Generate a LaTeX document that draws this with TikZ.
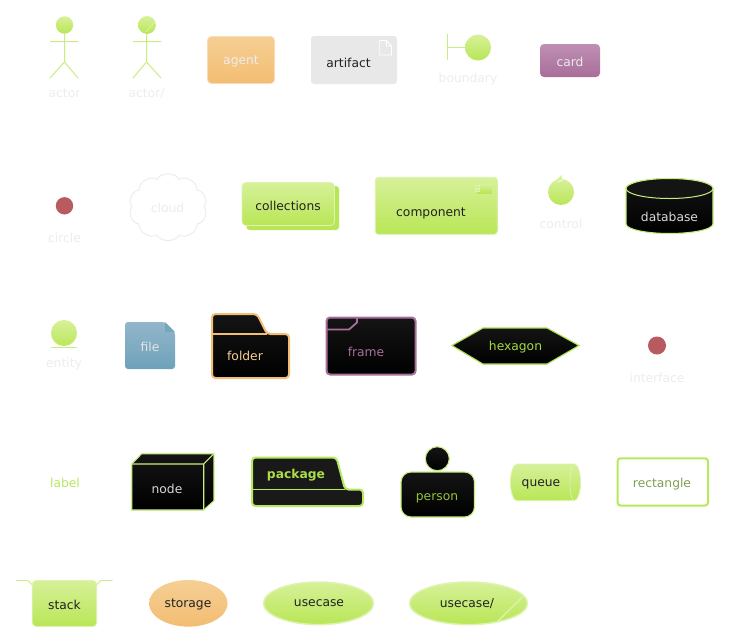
\documentclass[tikz,border=0pt]{standalone}
\usepackage{fontspec}
\setmainfont{DejaVu Sans}
\definecolor{gtop}{HTML}{D6F199}
\definecolor{gbot}{HTML}{B9E656}
\definecolor{gline}{HTML}{DDF3AE}
\definecolor{gstroke}{HTML}{C9EE80}
\definecolor{gdeep}{HTML}{B8E860}
\definecolor{gtext}{HTML}{A5DA3E}
\definecolor{faint}{HTML}{EDEDED}
\definecolor{otop}{HTML}{F5CF94}
\definecolor{obot}{HTML}{F3BD72}
\definecolor{ptop}{HTML}{BE8FB3}
\definecolor{pbot}{HTML}{A96E9A}
\definecolor{btop}{HTML}{92B6CA}
\definecolor{bbot}{HTML}{6EA2BA}
\definecolor{redc}{HTML}{B85B60}
\definecolor{darktext}{HTML}{222222}
\definecolor{rectext}{HTML}{7F9F55}
\definecolor{artgray}{HTML}{E8E8E8}
\tikzset{
  x=1pt,y=-1pt,
  txt/.style={inner sep=0pt,yshift=-0.9pt,font=\fontsize{12.3}{14}\selectfont},
  lbl/.style={txt,text=faint},
  dark/.style={txt,text=darktext},
  greenbox/.style={top color=gtop,bottom color=gbot,draw=gline,line width=0.8pt},
  orangebox/.style={top color=otop,bottom color=obot,draw=otop!70!white,line width=0.8pt},
  blackbox/.style={top color=black!92,bottom color=black,draw=gstroke,line width=1.1pt},
  stick/.style={draw=gstroke,line width=1pt},
}
\begin{document}
\begin{tikzpicture}
\useasboundingbox (0,0) rectangle (735,638);
\fill[white] (0,0) rectangle (735,638);

% row 1
\path[greenbox,draw=none] (64.5,25) circle (8.7);
\draw[stick] (64.5,33.5) -- (64.5,62) -- (50,78) (64.5,62) -- (78,78) (50,41.5) -- (78,41.5);
\node[lbl] (actorL) at (64.5,92.5) {actor};
\path[greenbox,draw=none] (147,25) circle (8.9);
\draw[gline,line width=0.7pt] (155,21.5) -- (146,32);
\draw[stick] (146.5,33.5) -- (146.5,62) -- (133,78) (146.5,62) -- (161,78) (133,41.5) -- (161,41.5);
\node[lbl] (actorsL) at (146.5,92.5) {actor/};
\path[orangebox,rounded corners=4] (207.5,36.5) rectangle (274.5,83.5);
\node[txt,text=faint] (agent) at (241,61) {agent};
\fill[artgray,rounded corners=3] (311,36) rectangle (397,84);
\node[dark] (artifact) at (348.5,62) {artifact};
\draw[white,line width=0.9pt] (379.7,40.5) -- (386.5,40.5) -- (391.5,46) -- (391.5,55) -- (379.7,55) -- cycle (386.5,40.5) -- (386.5,46) -- (391.5,46);
\draw[stick] (447.5,34) -- (447.5,60) (447.5,47.5) -- (465,47.5);
\path[greenbox,draw=none] (478,47.5) circle (13);
\node[lbl] (boundaryL) at (468,78) {boundary};
\path[top color=ptop,bottom color=pbot,rounded corners=4] (540,44) rectangle (600,77);
\node[txt,text=white!92!black] (card) at (570,61) {card};

% row 2
\fill[redc] (64.5,205.8) circle (8.7);
\node[lbl] (circleL) at (64.5,237.5) {circle};
\draw[faint,line width=1pt]
  (204,207) to[bend right=62] (197,190) to[bend right=62] (179,179.5) to[bend right=62] (157,179.5)
  to[bend right=62] (139,190) to[bend right=62] (132,207) to[bend right=62] (139,224)
  to[bend right=62] (157,235) to[bend right=62] (179,235) to[bend right=62] (197,224) to[bend right=62] (204,207) -- cycle;
\node[lbl] (cloud) at (167.5,207) {cloud};
\path[fill=gbot,rounded corners=3] (246.5,186) rectangle (339,230);
\path[greenbox,rounded corners=4] (242,182.5) rectangle (334.5,225.5);
\node[dark] (collections) at (288,205) {collections};
\path[greenbox,rounded corners=3] (375.3,177.3) rectangle (497.3,234.3);
\node[dark] (component) at (431,212.5) {component};
\path[top color=gtop,bottom color=gbot] (477,184) rectangle (492,193);
\draw[gline,line width=0.6pt] (475,185.5) rectangle (479,188) (475,189) rectangle (479,191.5);
\path[top color=gtop,bottom color=gbot] (561,192) circle (13);
\fill[gtop] (562,175) -- (553,183) -- (561.5,182) -- cycle;
\draw[white,line width=0.7pt] (558.5,181.5) -- (562,180.5);
\node[lbl] (controlL) at (561,223.5) {control};
\path[blackbox] (626,188.5) -- (626,224) arc[start angle=180,end angle=0,x radius=43.5,y radius=9.5] -- (713,188.5) arc[start angle=0,end angle=-180,x radius=43.5,y radius=10] -- cycle;
\path[draw=gstroke,line width=1pt,fill=black!92] (626,188.5) arc[start angle=180,end angle=0,x radius=43.5,y radius=10] arc[start angle=0,end angle=-180,x radius=43.5,y radius=10] -- cycle;
\node[txt,text=white!85!black] (database) at (669.5,216.5) {database};

% row 3
\path[top color=gtop,bottom color=gbot!90!gtop] (64,333) circle (13);
\draw[stick] (51,347.5) -- (77,347.5);
\node[lbl] (entityL) at (64,363.5) {entity};
\path[top color=btop,bottom color=bbot,rounded corners=3] (125,322) -- (165,322) -- (175,332) -- (175,369) -- (125,369) -- cycle;
\fill[bbot!80!btop] (165,322) -- (175,332) -- (165,332) -- cycle;
\node[txt,text=white!90!black] (file) at (150,346) {file};
\path[top color=black!92,bottom color=black,draw=obot,line width=2pt,rounded corners=3.5]
  (212,334) -- (212,314) -- (257,314) -- (267,334) -- (289,334) -- (289,378) -- (212,378) -- cycle;
\draw[obot,line width=2pt] (212,334) -- (267,334);
\node[txt,text=otop] (folder) at (245,355.5) {folder};
\path[top color=black!92,bottom color=black,draw=pbot,line width=2pt,rounded corners=3.5]
  (326.5,317.5) rectangle (415.5,374.5);
\draw[pbot,line width=1.8pt] (326.5,329.5) -- (349,329.5) -- (357,322.5) -- (357,317.5);
\node[txt,text=pbot] (frame) at (366,351.5) {frame};
\path[top color=black!92,bottom color=black,draw=gtext!80!gstroke,line width=1.1pt]
  (452,345.5) -- (483,328) -- (547,328) -- (579,345.5) -- (547,364) -- (483,364) -- cycle;
\node[txt,text=gtext] (hexagon) at (515.5,346) {hexagon};
\fill[redc] (657,345.5) circle (9);
\node[lbl] (interfaceL) at (657,377) {interface};

% row 4
\node[txt,text=gdeep] (labelN) at (65,482.5) {label};
\path[blackbox] (131.7,464) -- (141.7,453.7) -- (214,453.7) -- (214,500.7) -- (203.7,510) -- (131.7,510) -- cycle;
\draw[gstroke,line width=1.1pt] (131.7,464) -- (203.7,464) -- (203.7,510) (203.7,464) -- (214,453.7);
\node[txt,text=white!85!black] (nodeN) at (167,488) {node};
\path[fill=black!90,draw=gdeep,line width=2pt,rounded corners=3.5]
  (252,489.5) -- (252,457.5) -- (336.5,457.5) -- (345,489.5) -- (363,489.5) -- (363,506) -- (252,506) -- cycle;
\draw[gdeep,line width=1.6pt] (252,489.5) -- (345,489.5);
\node[txt,text=gtext!70!gdeep,font=\fontsize{12.3}{14}\selectfont\bfseries] (package) at (296,474.5) {package};
\path[blackbox] (437.3,458.7) circle (12);
\path[blackbox,rounded corners=10] (401,472) rectangle (474.5,517);
\node[txt,text=gtext!90!black] (person) at (437,497) {person};
\path[greenbox] (517,464) -- (574,464) arc[start angle=-90,end angle=90,x radius=6.5,y radius=18.3] -- (517,500.7) arc[start angle=90,end angle=270,x radius=6.5,y radius=18.3] -- cycle;
\draw[gline,line width=0.7pt] (574,464) arc[start angle=-90,end angle=-270,x radius=4,y radius=18.3];
\node[dark] (queue) at (541,483) {queue};
\draw[fill=white,draw=gdeep,line width=2pt,rounded corners=3] (617.5,458.3) rectangle (708,505.5);
\node[txt,text=rectext] (rectangleN) at (662,483) {rectangle};

% row 5
\draw[gstroke,line width=0.9pt] (16,580.5) -- (27,580.5) to[out=0,in=-90] (32.5,584);
\draw[gstroke,line width=0.9pt] (112.7,580.5) -- (101.5,580.5) to[out=180,in=-90] (96.5,584);
\path[greenbox,rounded corners=4] (32.3,580.5) rectangle (96.7,626.5);
\node[dark] (stack) at (64.5,604) {stack};
\path[orangebox,draw=none] (188.3,603.3) ellipse[x radius=39.3,y radius=23.3];
\node[dark] (storage) at (188,604) {storage};
\path[top color=gtop,bottom color=gbot,draw=gline,line width=1.5pt] (318.5,603.3) ellipse[x radius=55,y radius=21.3];
\node[dark] (usecase) at (319,602.5) {usecase};
\path[top color=gtop,bottom color=gbot,draw=gline,line width=1.5pt] (468.5,603.3) ellipse[x radius=59,y radius=21.3];
\draw[gline,line width=1.3pt] (522.7,596.7) -- (498,621);
\node[dark] (usecases) at (467,602.5) {usecase/};
\end{tikzpicture}
\end{document}
